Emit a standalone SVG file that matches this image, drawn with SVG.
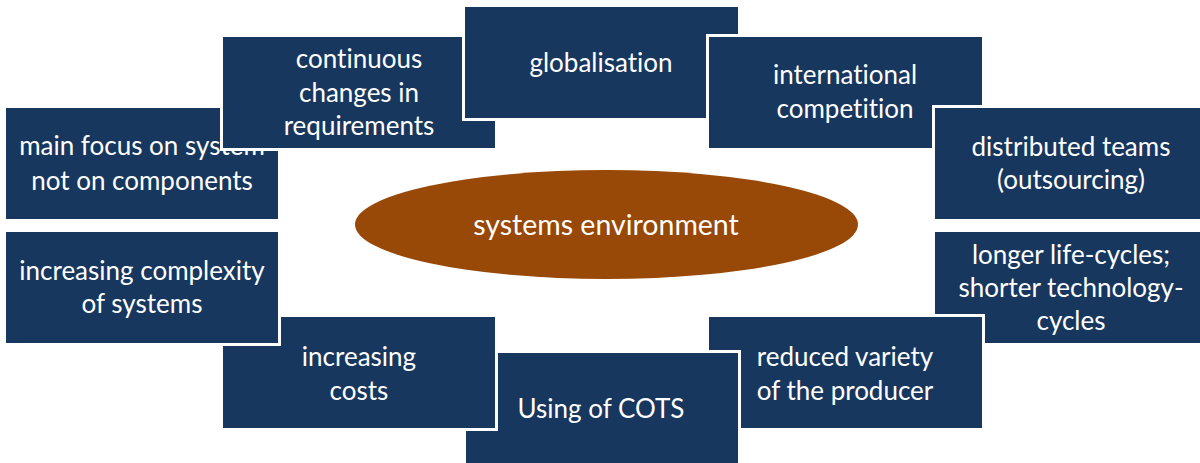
<svg xmlns="http://www.w3.org/2000/svg" width="1200" height="463" viewBox="0 0 1200 463">
<style>
.box{fill:#17375E;stroke:#ffffff;stroke-width:3}
.t{font-family:Lato,"Liberation Sans",sans-serif;font-size:26px;fill:#ffffff;text-anchor:middle;font-variant-ligatures:none}
.c{font-size:28.5px}
</style>
<rect width="1200" height="463" fill="#ffffff"/>
<g id="connectors"></g>
<g id="center">
<ellipse cx="606.5" cy="224.5" rx="251.5" ry="54.5" fill="#984807"/>
<text class="t c" x="606" y="235">systems environment</text>
</g>
<g id="n-main-focus">
<rect class="box" x="4.5" y="106.5" width="275" height="114"/>
<text class="t" x="142" y="155">main focus on system</text>
<text class="t" x="142" y="190">not on components</text>
</g>
<g id="n-continuous">
<rect class="box" x="221.5" y="35.5" width="275" height="114"/>
<text class="t" x="359" y="68">continuous</text>
<text class="t" x="359" y="102">changes in</text>
<text class="t" x="359" y="135">requirements</text>
</g>
<g id="n-globalisation">
<rect class="box" x="463.5" y="5.5" width="276" height="114"/>
<text class="t" x="601" y="72">globalisation</text>
</g>
<g id="n-international">
<rect class="box" x="707.5" y="35.5" width="276" height="114"/>
<text class="t" x="845" y="84">international</text>
<text class="t" x="845" y="118">competition</text>
</g>
<g id="n-distributed">
<rect class="box" x="933.5" y="106.5" width="275" height="114"/>
<text class="t" x="1071" y="156">distributed teams</text>
<text class="t" x="1071" y="189">(outsourcing)</text>
</g>
<g id="n-longer">
<rect class="box" x="933.5" y="230.5" width="275" height="114"/>
<text class="t" x="1071" y="264">longer life-cycles;</text>
<text class="t" x="1071" y="297">shorter technology-</text>
<text class="t" x="1071" y="330">cycles</text>
</g>
<g id="n-reduced">
<rect class="box" x="707.5" y="315.5" width="276" height="114"/>
<text class="t" x="845" y="366">reduced variety</text>
<text class="t" x="845" y="400">of the producer</text>
</g>
<g id="n-cots">
<rect class="box" x="464.5" y="351.5" width="275" height="114"/>
<text class="t" x="601" y="418">Using of COTS</text>
</g>
<g id="n-costs">
<rect class="box" x="221.5" y="315.5" width="275" height="114"/>
<text class="t" x="359" y="366">increasing</text>
<text class="t" x="359" y="400">costs</text>
</g>
<g id="n-complexity">
<rect class="box" x="4.5" y="230.5" width="275" height="114"/>
<text class="t" x="142" y="280">increasing complexity</text>
<text class="t" x="142" y="313">of systems</text>
</g>
</svg>
